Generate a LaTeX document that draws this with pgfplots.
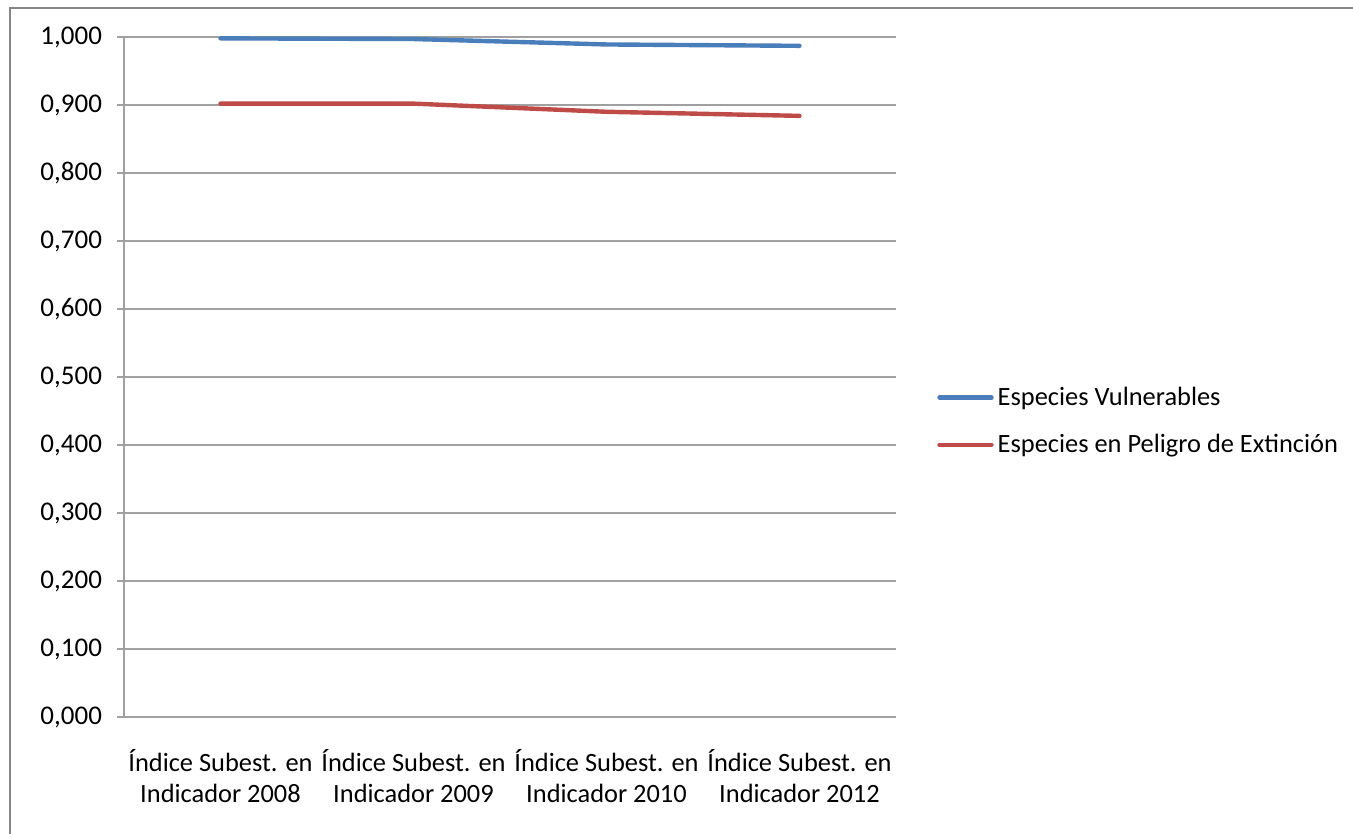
\documentclass[border=0pt]{standalone}
\usepackage{pgfplots}
\pgfplotsset{compat=1.18}
\usepackage{fontspec}
\setmainfont{Carlito}
\definecolor{vblue}{HTML}{4A7EBB}
\definecolor{vred}{HTML}{BE4B48}
\definecolor{gridg}{HTML}{A0A0A0}
\definecolor{bord}{HTML}{868686}
\begin{document}
\begin{tikzpicture}
\useasboundingbox (0pt,0pt) rectangle (676.5pt,417pt);
\draw[bord,line width=1pt] (5pt,-5pt) -- (5pt,413pt) -- (690pt,413pt);
\begin{axis}[
  at={(62pt,58.5pt)}, anchor=south west,
  scale only axis, width=386pt, height=340pt,
  xmin=-0.5, xmax=3.5, ymin=0, ymax=1,
  axis lines*=left,
  axis line style={gridg, line width=0.8pt},
  xtick={0,1,2,3},
  xticklabels={{Índice Subest. en\\Indicador 2008},{Índice Subest. en\\Indicador 2009},{Índice Subest. en\\Indicador 2010},{Índice Subest. en\\Indicador 2012}},
  x tick label style={align=center, font=\fontsize{13.2}{15.5}\selectfont, yshift=-9pt},
  major x tick style={draw=none},
  extra x ticks={-0.5,0.5,1.5,2.5,3.5},
  extra x tick labels={},
  extra x tick style={tick style={gridg, line width=0.8pt}, major tick length=3.5pt, xtick align=outside},
  ytick={0,0.1,...,1.0},
  ymajorgrids,
  grid style={gridg, line width=0.8pt},
  y tick style={gridg, line width=0.8pt},
  major tick length=3.5pt,
  tick align=outside,
  yticklabel style={font=\fontsize{13.5}{15}\selectfont, xshift=-4pt},
  /pgf/number format/.cd, fixed, fixed zerofill, precision=3, use comma, assume math mode=true,
  /pgfplots/.cd,
  legend style={draw=none, fill=none, at={(1.053,0.435)}, anchor=west,
    font=\fontsize{13.2}{15}\selectfont, row sep=9pt, inner sep=0pt,
    cells={anchor=west}},
  legend image code/.code={\draw[#1, line width=2.2pt] (0pt,0pt) -- (26pt,0pt);},
  clip=false,
]
\addplot[vblue, line width=2.2pt, line cap=round] coordinates {(0,0.998) (1,0.997) (2,0.989) (3,0.987)};
\addlegendentry{Especies Vulnerables}
\addplot[vred, line width=2.2pt, line cap=round] coordinates {(0,0.902) (1,0.902) (2,0.890) (3,0.884)};
\addlegendentry{Especies en Peligro de Extinción}
\end{axis}
\end{tikzpicture}
\end{document}
